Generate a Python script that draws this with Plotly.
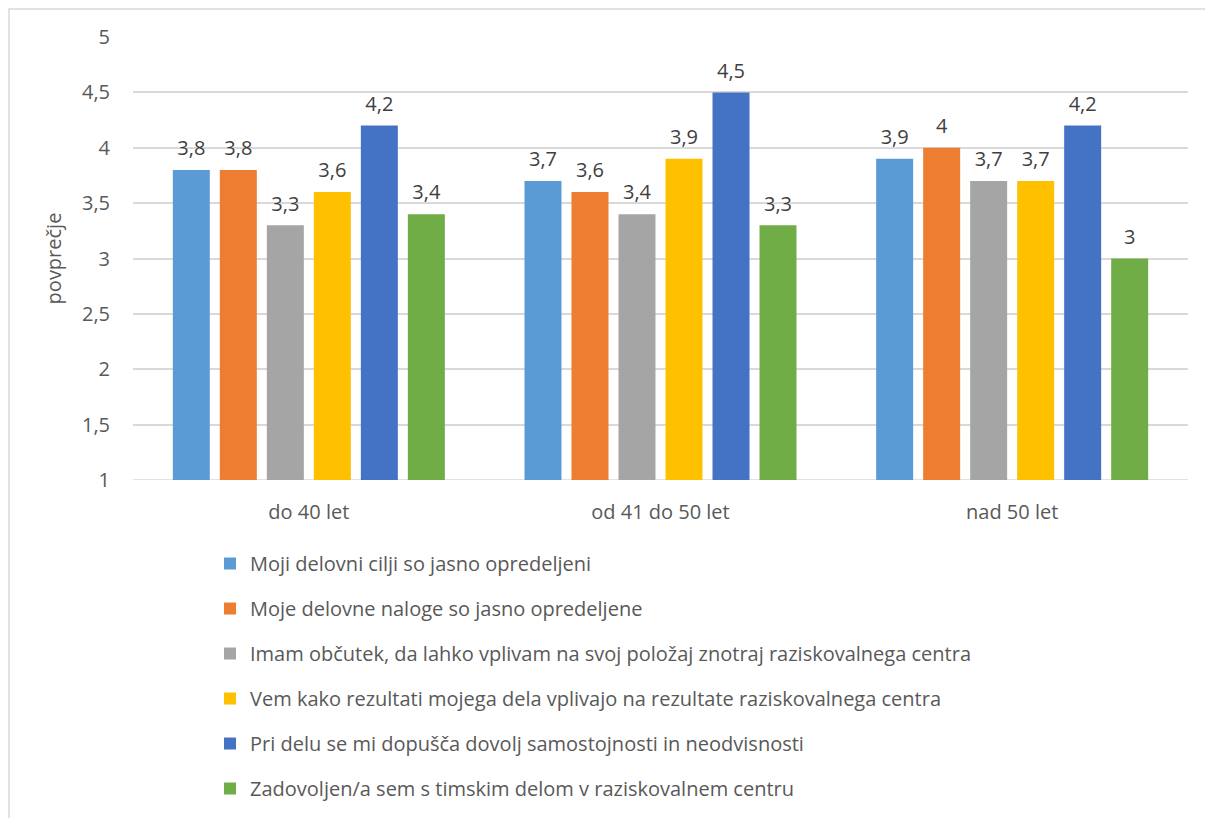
import plotly.graph_objects as go

categories = ["do 40 let", "od 41 do 50 let", "nad 50 let"]
series_names = [
    "Moji delovni cilji so jasno opredeljeni",
    "Moje delovne naloge so jasno opredeljene",
    "Imam občutek, da lahko vplivam na svoj položaj znotraj raziskovalnega centra",
    "Vem kako rezultati mojega dela vplivajo na rezultate raziskovalnega centra",
    "Pri delu se mi dopušča dovolj samostojnosti in neodvisnosti",
    "Zadovoljen/a sem s timskim delom v raziskovalnem centru",
]
values = [
    [3.8, 3.7, 3.9],
    [3.8, 3.6, 4.0],
    [3.3, 3.4, 3.7],
    [3.6, 3.9, 3.7],
    [4.2, 4.5, 4.2],
    [3.4, 3.3, 3.0],
]
colors = ["#5B9BD5", "#ED7D31", "#A5A5A5", "#FFC000", "#4472C4", "#70AD47"]
y_ticks = [1, 1.5, 2, 2.5, 3, 3.5, 4, 4.5, 5]
y_tick_labels = ["1", "1,5", "2", "2,5", "3", "3,5", "4", "4,5", "5"]

FONT = "Open Sans, Liberation Sans, sans-serif"
TXT = "#595959"
FS = 20
BARGAP = 0.198
GROUPGAP = 0.213

fig = go.Figure()
for i, (name, vals, col) in enumerate(zip(series_names, values, colors)):
    fig.add_trace(go.Bar(
        x=categories, y=vals, name=name,
        marker=dict(color=col, line=dict(width=0)),
        legendgroup="g%d" % i, hoverinfo="skip",
    ))
for i, (name, vals) in enumerate(zip(series_names, values)):
    fig.add_trace(go.Scatter(
        x=categories, y=vals, mode="markers+text",
        marker=dict(size=14, opacity=0),
        text=[("%g" % v).replace(".", ",") for v in vals],
        textposition="top center",
        textfont=dict(family=FONT, size=FS, color="#404040"),
        cliponaxis=False, showlegend=False, hoverinfo="skip",
        legendgroup="t%d" % i,
    ))

W, H = 1213, 818
L, R, T, B = 125, 33, 29, 346
pw, ph = W - L - R, H - T - B

fig.update_layout(
    width=W, height=H,
    margin=dict(l=L, r=R, t=T, b=B, autoexpand=False),
    paper_bgcolor="white", plot_bgcolor="white",
    barmode="group", bargap=BARGAP, bargroupgap=GROUPGAP,
    scattermode="group", scattergap=BARGAP,
    font=dict(family=FONT, size=FS, color=TXT),
    showlegend=True,
    legend=dict(
        orientation="v", x=0.073, xanchor="left", y=-0.1445, yanchor="top",
        font=dict(family=FONT, size=FS, color=TXT),
        tracegroupgap=16, traceorder="grouped",
    ),
    xaxis=dict(showline=False, ticks="", ticklabelstandoff=18,
               tickfont=dict(family=FONT, size=FS, color=TXT)),
    yaxis=dict(
        range=[1, 5], tickvals=y_ticks, ticktext=y_tick_labels,
        showgrid=True, gridcolor="#D9D9D9", gridwidth=1.5,
        zeroline=False, showline=False, ticks="",
        tickfont=dict(family=FONT, size=FS, color=TXT),
        ticklabelstandoff=22,
        title=dict(text="povprečje", font=dict(family=FONT, size=FS, color=TXT), standoff=14),
    ),
    shapes=[dict(type="rect", xref="paper", yref="paper",
                 x0=-(L - 1) / pw, x1=1.2, y0=-3, y1=1 + (T - 1) / ph,
                 line=dict(color="#D9D9D9", width=1.5), fillcolor="rgba(0,0,0,0)", layer="below")],
)
fig.add_shape(type="line", xref="paper", yref="y", x0=0, x1=1, y0=1, y1=1,
              line=dict(color="#D9D9D9", width=1.5), layer="below")

fig.write_html("out.html")
